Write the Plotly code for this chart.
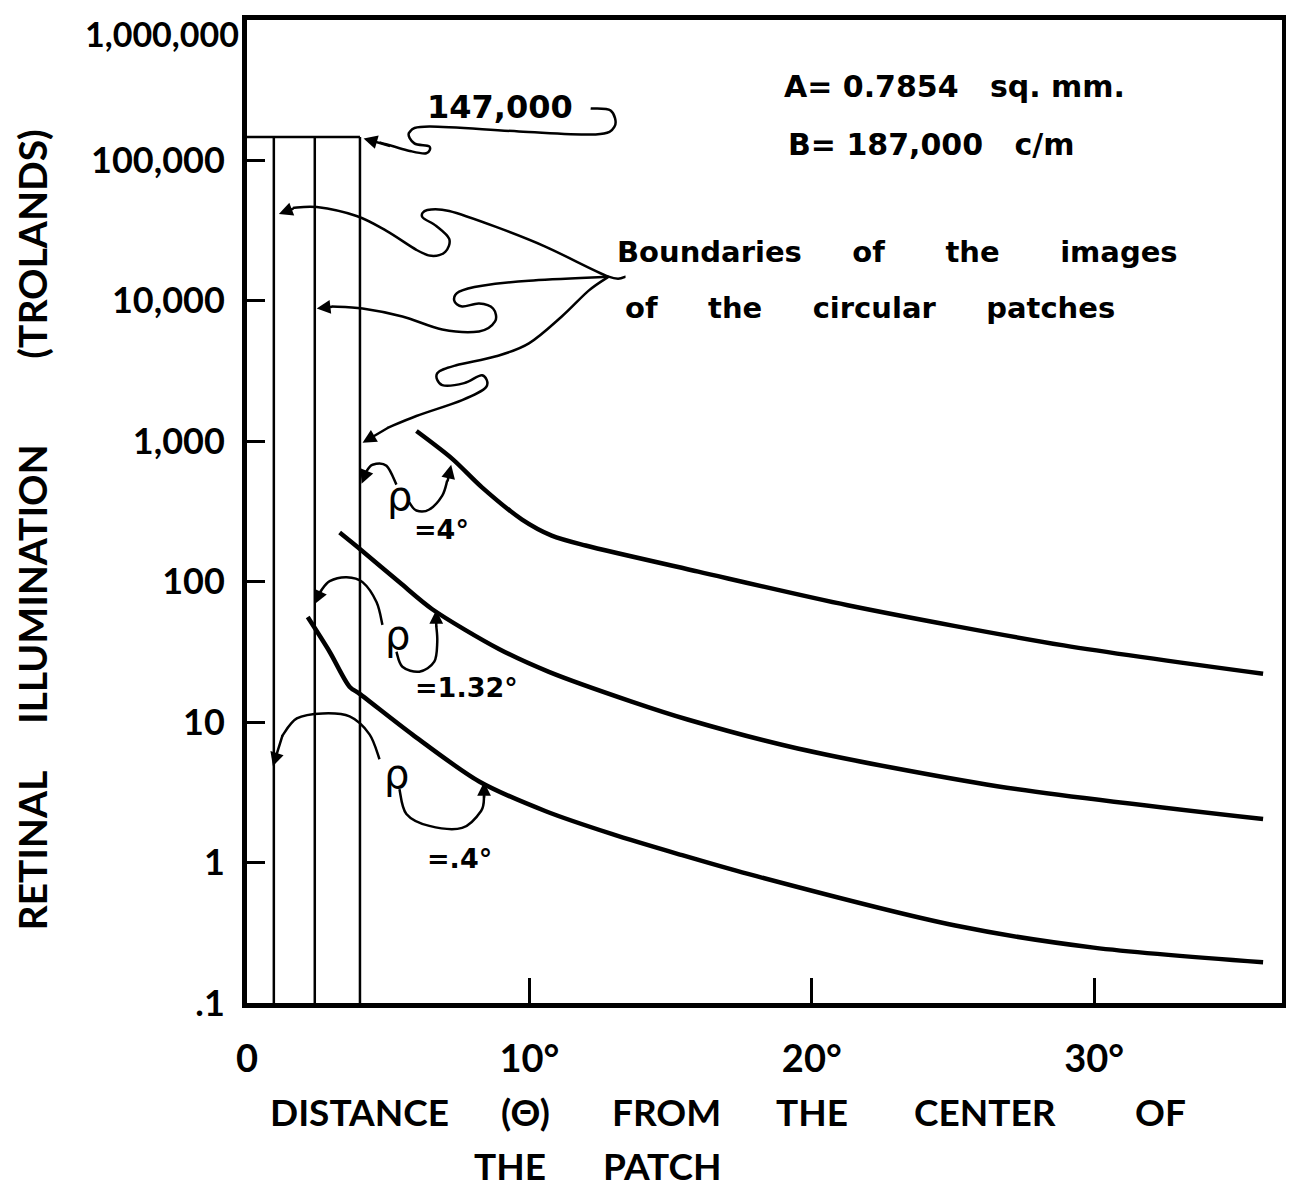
import plotly.graph_objects as go

# ---------------- data ----------------
theta_rho4 = [6.0, 7.27, 8.32, 9.74, 10.79, 11.99, 15.98, 21.27, 28.92, 35.98]
illum_rho4 = [1183, 750, 470, 277, 213, 181, 118, 68, 35.2, 22.1]

theta_rho132 = [3.28, 4.06, 5.40, 6.56, 8.92, 10.69, 13.62, 15.63, 19.5, 26.56, 35.98]
illum_rho132 = [224, 167, 99, 63.7, 33.2, 22.8, 14.0, 10.4, 6.49, 3.5, 2.04]

theta_rho04 = [2.15, 2.93, 3.63, 3.99, 5.86, 8.22, 10.58, 12.91, 15.27, 17.74, 25.08, 29.98, 35.98]
illum_rho04 = [56, 31.6, 17.9, 15.9, 8.15, 3.78, 2.32, 1.60, 1.15, 0.83, 0.356, 0.248, 0.195]

boundary_theta = [0.95, 2.4, 4.0]      # image boundaries of the patches
peak_illum = 147000                   # illumination inside the image
y_floor = 0.1

ytick_vals = [0.1, 1, 10, 100, 1000, 10000, 100000]
ytick_text = [".1", "1", "10", "100", "1,000", "10,000", "100,000"]
top_label = "1,000,000"
xtick_vals = [0, 10, 20, 30]
xtick_text = ["0", "10°", "20°", "30°"]

# ---------------- layout geometry (page pixels, body margin compensated) ----------------
OFF = 8
W, H = 1294 - OFF, 1188 - OFF
L, T = 247 - OFF, 15 - OFF
R = W - (1286 - OFF)
B = H - (1003 - OFF)
PW, PH = W - L - R, H - T - B


def px(x):
    return (x - OFF - L) / PW


def py(y):
    return (H - B - (y - OFF)) / PH


def smooth_path(pts):
    p = [(px(x), py(y)) for x, y in pts]
    s = f"M {p[0][0]:.5f},{p[0][1]:.5f}"
    for i in range(len(p) - 1):
        p0 = p[i - 1] if i > 0 else p[i]
        p1, p2 = p[i], p[i + 1]
        p3 = p[i + 2] if i + 2 < len(p) else p[i + 1]
        c1 = (p1[0] + (p2[0] - p0[0]) / 6, p1[1] + (p2[1] - p0[1]) / 6)
        c2 = (p2[0] - (p3[0] - p1[0]) / 6, p2[1] - (p3[1] - p1[1]) / 6)
        s += f" C {c1[0]:.5f},{c1[1]:.5f} {c2[0]:.5f},{c2[1]:.5f} {p2[0]:.5f},{p2[1]:.5f}"
    return s


fig = go.Figure()

for th, il in [(theta_rho4, illum_rho4), (theta_rho132, illum_rho132), (theta_rho04, illum_rho04)]:
    fig.add_trace(go.Scatter(x=th, y=il, mode="lines",
                             line=dict(color="black", width=4.5, shape="spline", smoothing=0.8),
                             showlegend=False, hoverinfo="skip"))

for bt in boundary_theta:
    fig.add_trace(go.Scatter(x=[bt, bt], y=[y_floor, peak_illum], mode="lines",
                             line=dict(color="black", width=2.5), showlegend=False, hoverinfo="skip"))
fig.add_trace(go.Scatter(x=[0, boundary_theta[-1]], y=[peak_illum, peak_illum], mode="lines",
                         line=dict(color="black", width=2.5), showlegend=False, hoverinfo="skip"))

# ---------------- decorative curly arrows (page pixel positions) ----------------
curves = [
    # 147,000 leader
    [(592, 104), (612, 106), (616, 122), (597, 130), (520, 127), (430, 122), (410, 128),
     (415, 139), (430, 142), (427, 149), (412, 147), (380, 138)],
    # boundaries -> line 1
    [(627, 273), (610, 273), (547, 243), (497, 223), (450, 207), (428, 206), (423, 213), (437, 222),
     (450, 235), (446, 248), (432, 252), (417, 246), (387, 227), (357, 212), (317, 203), (293, 204)],
    # boundaries -> line 2
    [(610, 273), (530, 277), (483, 282), (460, 288), (455, 297), (463, 303), (480, 300), (494, 305),
     (496, 318), (480, 328), (443, 326), (403, 313), (363, 305), (332, 303)],
    # boundaries -> line 3
    [(610, 273), (590, 287), (563, 313), (530, 340), (497, 353), (457, 362), (438, 370), (443, 382),
     (465, 380), (483, 372), (487, 384), (463, 397), (417, 413), (388, 425)],
    # rho = 4
    [(397, 482), (387, 463), (373, 462), (366, 470)],
    [(410, 500), (417, 508), (430, 507), (443, 493), (448, 478)],
    # rho = 1.32
    [(383, 623), (377, 600), (363, 580), (347, 575), (330, 579), (321, 589)],
    [(397, 650), (403, 665), (420, 670), (435, 660), (438, 640), (437, 624)],
    # rho = .4
    [(380, 758), (370, 733), (350, 715), (323, 712), (297, 717), (282, 735)],
    [(400, 788), (407, 813), (430, 825), (463, 827), (482, 810), (485, 795)],
]
for c in curves:
    fig.add_shape(type="path", xref="paper", yref="paper", path=smooth_path(c),
                  line=dict(color="black", width=2.5))

# arrow heads: (tip, tail)
heads = [((364, 134), (392, 142)), ((279, 210), (295, 204)), ((317, 305), (334, 303)),
         ((363, 440), (390, 424)), ((362, 481), (367, 469)), ((452, 462), (448, 480)),
         ((315, 602), (322, 587)), ((437, 608), (437, 626)), ((273, 765), (283, 733)),
         ((485, 781), (485, 798))]
annotations = []
for (tx, ty), (sx, sy) in heads:
    annotations.append(dict(xref="paper", yref="paper", x=px(tx), y=py(ty), ax=sx - tx, ay=sy - ty,
                            text="", showarrow=True, arrowhead=2, arrowsize=1.1, arrowwidth=2.5,
                            arrowcolor="black"))

DJ = dict(family="DejaVu Sans", color="black", weight="bold")
DJN = dict(family="DejaVu Sans", color="black", weight="normal")
LT = dict(family="Lato", color="black", weight="bold")
NB = "\u00a0"


def txt(s, x, y, font, size, anchor="left", angle=0):
    f = dict(font)
    f["size"] = size
    return dict(xref="paper", yref="paper", x=px(x), y=py(y), text=s, showarrow=False,
                xanchor=anchor, yanchor="middle", font=f, textangle=angle)


# right-side notes
annotations += [
    txt("A=" + NB + "0.7854" + NB * 3 + "sq." + NB + "mm.", 784, 82, DJ, 30),
    txt("B=" + NB + "187,000" + NB * 3 + "c/m", 788, 140, DJ, 30),
    txt("Boundaries" + NB * 5 + "of" + NB * 6 + "the" + NB * 6 + "images", 616, 248, DJ, 29),
    txt("of" + NB * 5 + "the" + NB * 5 + "circular" + NB * 5 + "patches", 624, 304, DJ, 29),
    txt("147,000", 426, 102, DJ, 32),
    txt("ρ", 386, 493, DJN, 40),
    txt("=4°", 413, 527, DJ, 27),
    txt("ρ", 384, 633, DJN, 40),
    txt("=1.32°", 414, 686, DJ, 27),
    txt("ρ", 383, 773, DJN, 40),
    txt("=.4°", 426, 858, DJ, 27),
    txt(top_label, 241, 29, LT, 34, anchor="right"),
]

# x axis title, word by word
for word, xl, yc in [("DISTANCE", 268, 1112), ("(Θ)", 500, 1112), ("FROM", 611, 1112),
                     ("THE", 776, 1112), ("CENTER", 915, 1112), ("OF", 1136, 1112),
                     ("THE", 473, 1166), ("PATCH", 602, 1166)]:
    annotations.append(txt(word, xl, yc, LT, 37))

# y axis title, word by word (rotated)
for word, yc in [("RETINAL", 850), ("ILLUMINATION", 582), ("(TROLANDS)", 240)]:
    annotations.append(dict(xref="paper", yref="paper", x=px(31), y=py(yc), text=word,
                            showarrow=False, xanchor="center", yanchor="middle",
                            font=dict(LT, size=39), textangle=-90))

fig.update_layout(
    width=W, height=H, margin=dict(l=L, r=R, t=T, b=B),
    paper_bgcolor="white", plot_bgcolor="white", showlegend=False,
    annotations=annotations,
    xaxis=dict(range=[0, 36.65], tickvals=xtick_vals, ticktext=xtick_text,
               ticks="inside", ticklen=25, tickwidth=3, tickcolor="black",
               showline=True, linewidth=5, linecolor="black", mirror=True,
               showgrid=False, zeroline=False, ticklabelstandoff=18,
               tickfont=dict(LT, size=38)),
    yaxis=dict(type="log", range=[-1, 6], tickvals=ytick_vals, ticktext=ytick_text,
               ticks="inside", ticklen=18, tickwidth=3, tickcolor="black",
               showline=True, linewidth=5, linecolor="black", mirror=True,
               showgrid=False, zeroline=False, ticklabelstandoff=10,
               tickfont=dict(LT, size=36)),
)

fig.write_html("out.html", config={"displayModeBar": False})
